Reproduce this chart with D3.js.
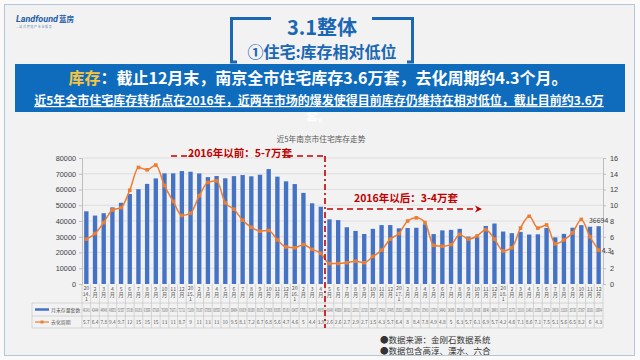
<!DOCTYPE html>
<html><head><meta charset="utf-8">
<script src="https://cdn.jsdelivr.net/npm/d3@7"></script>
<style>
html,body{margin:0;padding:0;background:#fafafa;}
svg{display:block;font-family:"Noto Sans CJK SC","Noto Sans",sans-serif;}
</style></head>
<body><svg width="640" height="360"></svg>
<script>
var categories = ['2014.1','2','3','4','5','6','7','8','9','10','11','12',
                  '2015.1','2','3','4','5','6','7','8','9','10','11','12',
                  '2016.1','2','3','4','5','6','7','8','9','10','11','12',
                  '2017.1','2','3','4','5','6','7','8','9','10','11','12',
                  '2018.1','2','3','4','5','6','7','8','9','10','11','12'];
var stock = [46143,43444,44948,48655,51557,57180,60183,63566,67026,70269,70271,71712,
             71269,70187,67856,68556,67116,68484,69169,68369,69372,72968,68165,65183,
             63457,57851,51249,49059,41040,40560,36033,33701,31736,35027,37403,37405,
             35352,35560,35703,37903,31703,34042,34350,35030,30106,30036,36840,38403,
             33317,32273,33103,31403,31550,35629,29630,31826,35736,37367,36361,36694];
var cycle = [5.7,6.4,7.8,9.4,9.7,11.9,14.8,14.5,15.1,12.5,10.5,8.7,
             9,11.2,12.9,13.1,10.3,9.5,8.1,7.2,6.7,6.8,5.6,4.7,
             4.6,5,4.4,3.9,2.6,2.6,2.7,2.9,2.7,3.5,4.3,5.7,
             6.4,8,8.4,7.8,4.9,4.8,5,6.3,5.7,6.1,6.9,5.7,
             4.2,4.6,7.1,8.6,7.1,7.5,5.1,5.6,6.5,8.2,6,4.3];
var leftTicks = [0,10000,20000,30000,40000,50000,60000,70000,80000];
var rightTicks = [0,2,4,6,8,10,12,14,16];
var seriesNames = ['月末存量套数','去化周期'];

var blue = '#4472c4', orange = '#ed7d31', red = '#c00000', navy = '#1a67b3';
var svg = d3.select('svg');

// page frame
svg.append('rect').attr('x',4.5).attr('y',4.5).attr('width',630).attr('height',351)
    .attr('fill','#f2f2f2').attr('stroke','#b4c7d9');

// logo
svg.append('text').attr('x',16).attr('y',22).attr('font-size',9).attr('font-weight','bold')
    .attr('font-style','italic').attr('fill','#1f5fa8').attr('font-family','Roboto, sans-serif')
    .text('Landfound');
svg.append('text').attr('x',59).attr('y',22).attr('font-size',7.5).attr('font-weight','bold')
    .attr('fill','#1f5fa8').text('蓝房');
svg.append('text').attr('x',16).attr('y',28).attr('font-size',3).attr('fill','#6f8fb8')
    .text('— 站 式 房 地 产 专 业 服 务');

// title brackets
svg.append('path').attr('d','M271,18.5 H231.5 V62 H237').attr('fill','none')
    .attr('stroke',navy).attr('stroke-width',3);
svg.append('path').attr('d','M372,18.5 H412.5 V62 H407').attr('fill','none')
    .attr('stroke',navy).attr('stroke-width',3);
svg.append('text').attr('x',322).attr('y',35).attr('text-anchor','middle')
    .attr('font-size',20).attr('font-weight','bold').attr('fill',navy).text('3.1整体');
svg.append('text').attr('x',322).attr('y',58).attr('text-anchor','middle')
    .attr('font-size',16).attr('font-weight','bold').attr('fill',navy).text('①住宅:库存相对低位');

// banner
svg.append('text').attr('x',318).attr('y',121).attr('text-anchor','middle')
    .attr('font-size',12).attr('font-weight','bold').attr('fill','#ffffff').text('套。');
svg.append('rect').attr('x',15).attr('y',64).attr('width',610).attr('height',48).attr('fill','#0f6cbd');
var l1 = svg.append('text').attr('x',318).attr('y',84).attr('text-anchor','middle')
    .attr('font-size',16).attr('font-weight','bold').attr('fill','#ffffff');
l1.append('tspan').attr('fill','#f6c544').text('库存');
l1.append('tspan').text('：截止12月末，南京全市住宅库存3.6万套，去化周期约4.3个月。');
svg.append('text').attr('x',319).attr('y',105).attr('text-anchor','middle')
    .attr('font-size',12).attr('font-weight','bold').attr('fill','#ffffff')
    .attr('text-decoration','underline')
    .text('近5年全市住宅库存转折点在2016年，近两年市场的爆发使得目前库存仍维持在相对低位，截止目前约3.6万');

// chart
var x0 = 82, x1 = 603, yTop = 158, yBot = 284;
var x = d3.scaleBand().domain(d3.range(categories.length)).range([x0,x1]).paddingInner(0.5).paddingOuter(0.25);
var xc = function(i){ return x(i) + x.bandwidth()/2; };
var cell = (x1-x0)/categories.length;
var yL = d3.scaleLinear().domain([0,80000]).range([yBot,yTop]);
var yR = d3.scaleLinear().domain([0,16]).range([yBot,yTop]);

svg.append('text').attr('x',321).attr('y',142).attr('text-anchor','middle')
    .attr('font-size',7.7).attr('fill','#595959').text('近5年南京市住宅库存走势');

svg.append('g').selectAll('line').data(leftTicks.slice(1)).join('line')
    .attr('x1',x0).attr('x2',x1).attr('y1',function(d){return yL(d);}).attr('y2',function(d){return yL(d);})
    .attr('stroke','#d9d9d9').attr('stroke-width',0.8);

var axL = svg.append('g').attr('transform','translate('+x0+',0)')
    .call(d3.axisLeft(yL).tickValues(leftTicks).tickSize(3).tickPadding(3).tickFormat(d3.format('d')));
var axR = svg.append('g').attr('transform','translate('+x1+',0)')
    .call(d3.axisRight(yR).tickValues(rightTicks).tickSize(3).tickPadding(4));
[axL,axR].forEach(function(a){
    a.select('.domain').attr('stroke','#bfbfbf');
    a.selectAll('.tick line').attr('stroke','#bfbfbf');
    a.selectAll('text').attr('font-size',7.3).attr('fill','#404040').attr('font-family','"Liberation Sans", Arial, sans-serif');
});

svg.append('g').selectAll('rect').data(stock).join('rect')
    .attr('x',function(d,i){return x(i);}).attr('width',x.bandwidth())
    .attr('y',function(d){return yL(d);}).attr('height',function(d){return yBot-yL(d);})
    .attr('fill',blue);

svg.append('path').datum(cycle)
    .attr('d',d3.line().x(function(d,i){return xc(i);}).y(function(d){return yR(d);}).curve(d3.curveMonotoneX))
    .attr('fill','none').attr('stroke',orange).attr('stroke-width',1.5);
svg.append('g').selectAll('rect').data(cycle).join('rect')
    .attr('x',function(d,i){return xc(i)-1.8;}).attr('y',function(d){return yR(d)-1.8;})
    .attr('width',3.6).attr('height',3.6).attr('fill',orange);

var last = stock.length-1;
svg.append('text').attr('x',xc(last)).attr('y',yL(stock[last])-3).attr('text-anchor','middle')
    .attr('font-size',7).attr('fill','#404040').text(stock[last]);
svg.append('text').attr('x',xc(last)+3).attr('y',yR(cycle[last])+2.5)
    .attr('font-size',7).attr('fill','#404040').text(cycle[last]);

// table under the axis
var r0 = 284, r1 = 303, r2 = 316, r3 = 328, tl = 32;
var grid = svg.append('g').attr('stroke','#bfbfbf').attr('stroke-width',0.6);
d3.range(categories.length+1).forEach(function(i){
    grid.append('line').attr('x1',x0+i*cell).attr('x2',x0+i*cell).attr('y1',r0).attr('y2',r3);
});
[r1,r2,r3].forEach(function(y){
    grid.append('line').attr('x1',tl).attr('x2',x1).attr('y1',y).attr('y2',y);
});
grid.append('line').attr('x1',tl).attr('x2',tl).attr('y1',r1).attr('y2',r3);

var cats = svg.append('g').attr('font-size',5.2).attr('fill','#595959').attr('text-anchor','middle');
categories.forEach(function(c,i){
    var cx = x0+(i+0.5)*cell;
    var lines = c.indexOf('.')>0 ? [c.slice(0,2), c.slice(2,4)+'.', c.split('.')[1]] : [c,'月'];
    var ys = lines.length==3 ? [290,295.5,301] : [290.5,297];
    lines.forEach(function(t,k){
        cats.append('text').attr('x',cx).attr('y',ys[k]).text(t);
    });
});

// squeeze each value into its cell with a horizontal scale
function tableRow(vals, y, fmt){
    var g = svg.append('g').attr('font-size',4.8).attr('fill','#595959').attr('text-anchor','middle');
    vals.forEach(function(v,i){
        var t = g.append('text').text(fmt(v));
        var w = t.node().getComputedTextLength(), room = cell-2;
        var sx = w > room ? room/w : 1;
        t.attr('transform','translate('+(x0+(i+0.5)*cell)+','+y+') scale('+sx+',1)');
    });
}
tableRow(stock, 311.5, function(v){return v;});
tableRow(cycle, 324, function(v){return v>=10 ? Math.round(v) : v;});

svg.append('line').attr('x1',35).attr('x2',49).attr('y1',309.5).attr('y2',309.5)
    .attr('stroke',blue).attr('stroke-width',2.5);
svg.append('line').attr('x1',35).attr('x2',49).attr('y1',322).attr('y2',322)
    .attr('stroke',orange).attr('stroke-width',1.2);
svg.append('rect').attr('x',40.5).attr('y',320.5).attr('width',3).attr('height',3).attr('fill',orange);
seriesNames.forEach(function(n,i){
    svg.append('text').attr('x',51).attr('y',i ? 324 : 311.5).attr('font-size',4.9)
        .attr('fill','#595959').text(n);
});

// annotations
var ann = svg.append('g').attr('stroke',red).attr('fill','none').attr('stroke-width',1.6);
ann.append('line').attr('x1',171).attr('x2',193).attr('y1',156).attr('y2',156).attr('stroke-dasharray','6,4');
ann.append('line').attr('x1',287).attr('x2',325).attr('y1',156).attr('y2',156).attr('stroke-dasharray','6,4');
ann.append('line').attr('x1',325).attr('x2',325).attr('y1',156).attr('y2',328).attr('stroke-dasharray','6,3,2,3');
ann.append('line').attr('x1',327).attr('x2',476).attr('y1',209).attr('y2',209).attr('stroke-dasharray','6,4');
svg.append('path').attr('d','M475,205.5 L482,209 L475,212.5 L477,209 Z').attr('fill',red);
svg.append('text').attr('x',240).attr('y',157).attr('text-anchor','middle').attr('font-size',10.5)
    .attr('font-weight','bold').attr('fill',red).text('2016年以前：5-7万套');
svg.append('text').attr('x',406).attr('y',202).attr('text-anchor','middle').attr('font-size',10.5)
    .attr('font-weight','bold').attr('fill',red).text('2016年以后：3-4万套');

// notes
svg.append('text').attr('x',380).attr('y',343).attr('font-size',8.5).attr('fill','#333').text('●数据来源：金刚石数据系统');
svg.append('text').attr('x',380).attr('y',354).attr('font-size',8.5).attr('fill','#333').text('●数据包含高淳、溧水、六合');
</script>
</body></html>
